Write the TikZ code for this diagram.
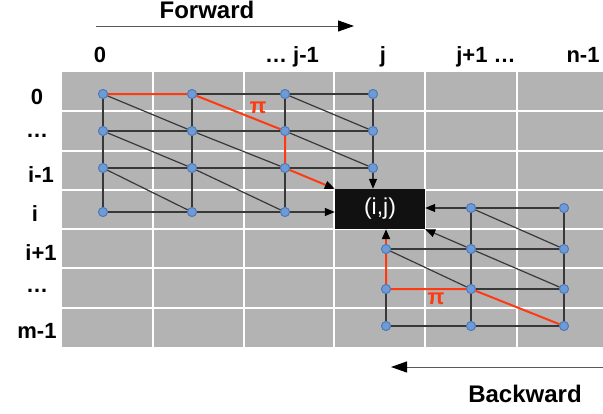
\documentclass[tikz,border=0pt]{standalone}
\usepackage{fontspec}
\setmainfont{Liberation Sans}
\usetikzlibrary{arrows.meta}
\definecolor{cellgray}{HTML}{B3B3B3}
\definecolor{edgegray}{HTML}{383838}
\definecolor{pathred}{HTML}{FF3A12}
\definecolor{dotfill}{HTML}{6E9BD6}
\definecolor{dotdraw}{HTML}{4A78B8}
\definecolor{boxblack}{HTML}{111111}
\begin{document}
\begin{tikzpicture}[x=1pt,y=-1pt,
  dot/.style={circle,fill=dotfill,draw=dotdraw,line width=0.8pt,inner sep=0pt,minimum size=9pt},
  edge/.style={draw=edgegray,line width=1.2pt},
  redpath/.style={draw=pathred,line width=2pt},
  tip/.style={-{Triangle[length=10pt,width=8pt,color=black,fill=black]}},
  lab/.style={font=\fontsize{22}{24}\selectfont\bfseries,anchor=base,text=black},
  title/.style={font=\fontsize{24}{26}\selectfont\bfseries,anchor=base,text=black},
  gridline/.style={draw=white,line width=2pt},
  dirarrow/.style={draw=black!65,line width=1pt,-{Triangle[length=16pt,width=11pt,color=black,fill=black]}},
  pilab/.style={font=\fontsize{22}{24}\selectfont\bfseries,text=pathred},
]
\useasboundingbox (0,0) rectangle (603,413);
% background grid
\fill[cellgray] (62,72) rectangle (608,347);
\foreach \x in {153,243.5,334,425,517} \draw[gridline] (\x,72) -- (\x,347);
\foreach \y in {111.3,150.6,189.9,229.1,268.4,307.7} \draw[gridline] (62,\y) -- (608,\y);

% direction arrows and titles
\coordinate (fwdS) at (96,26);
\coordinate (fwdE) at (354,26);
\draw[dirarrow] (fwdS) -- (fwdE);
\node[title] (fwdT) at (207,18) {Forward};
\coordinate (bwdS) at (603,367);
\coordinate (bwdE) at (391,367);
\draw[dirarrow] (bwdS) -- (bwdE);
\node[title] (bwdT) at (525,402) {Backward};

% column labels
\node[lab] (c0) at (100,62) {0};
\node[lab] (c1) at (292,62) {… j-1};
\node[lab] (c2) at (383,62) {j};
\node[lab] (c3) at (486,62) {j+1 …};
\node[lab] (c4) at (583,62) {n-1};
% row labels
\node[lab] (r0) at (37,104) {0};
\node[lab] (r1) at (37,137) {…};
\node[lab] (r2) at (41,182) {i-1};
\node[lab] (r3) at (35,221) {i};
\node[lab] (r4) at (41,260) {i+1};
\node[lab] (r5) at (37,292) {…};
\node[lab] (r6) at (37,338) {m-1};

% result box
\node[fill=boxblack,text=white,minimum width=90pt,minimum height=40pt,inner sep=0pt,
      font=\fontsize{23}{25}\selectfont] (box) at (380,209) {(i,j)};

% forward nodes
\node[dot] (f00) at (103,94) {};
\node[dot] (f10) at (192,94) {};
\node[dot] (f20) at (285,94) {};
\node[dot] (f30) at (373,94) {};
\node[dot] (f01) at (103,131) {};
\node[dot] (f11) at (192,131) {};
\node[dot] (f21) at (285,131) {};
\node[dot] (f31) at (373,131) {};
\node[dot] (f02) at (103,168) {};
\node[dot] (f12) at (192,168) {};
\node[dot] (f22) at (285,168) {};
\node[dot] (f32) at (373,168) {};
\node[dot] (f03) at (103,212) {};
\node[dot] (f13) at (192,212) {};
\node[dot] (f23) at (285,212) {};

% backward nodes
\node[dot] (b10) at (471,208) {};
\node[dot] (b20) at (564,208) {};
\node[dot] (b01) at (386,249) {};
\node[dot] (b11) at (471,249) {};
\node[dot] (b21) at (564,249) {};
\node[dot] (b02) at (386,289) {};
\node[dot] (b12) at (471,289) {};
\node[dot] (b22) at (564,289) {};
\node[dot] (b03) at (386,326) {};
\node[dot] (b13) at (471,326) {};
\node[dot] (b23) at (564,326) {};

% forward black edges
\draw[edge] (f10) -- (f20) -- (f30);
\draw[edge] (f01) -- (f11) -- (f21) -- (f31);
\draw[edge] (f02) -- (f12) -- (f22) -- (f32);
\draw[edge] (f03) -- (f13) -- (f23);
\draw[edge] (f00) -- (f01) -- (f02) -- (f03);
\draw[edge] (f10) -- (f11) -- (f12) -- (f13);
\draw[edge] (f20) -- (f21);
\draw[edge] (f22) -- (f23);
\draw[edge] (f30) -- (f31) -- (f32);
\draw[edge] (f00) -- (f11);
\draw[edge] (f20) -- (f31);
\draw[edge] (f01) -- (f12);
\draw[edge] (f11) -- (f22);
\draw[edge] (f21) -- (f32);
\draw[edge] (f02) -- (f13);
\draw[edge] (f12) -- (f23);
\draw[edge,tip] (f23) -- (f23 -| box.west);
\draw[edge,tip] (f32) -- (f32 |- box.north);
% forward red path
\draw[redpath] (f00) -- (f10) -- (f21) -- (f22);
\draw[redpath,tip] (f22) -- (box.north west);

% backward black edges
\draw[edge] (b20) -- (b10);
\draw[edge,tip] (b10) -- (b10 -| box.east);
\draw[edge] (b01) -- (b11) -- (b21);
\draw[edge] (b12) -- (b22);
\draw[edge] (b03) -- (b13) -- (b23);
\draw[edge] (b02) -- (b03);
\draw[edge] (b10) -- (b11) -- (b12) -- (b13);
\draw[edge] (b20) -- (b21) -- (b22) -- (b23);
\draw[edge] (b10) -- (b21);
\draw[edge] (b01) -- (b12);
\draw[edge] (b11) -- (b22);
\draw[edge,tip] (b11) -- (box.south east);
% backward red path
\draw[redpath] (b23) -- (b12) -- (b02) -- (b01);
\draw[redpath,tip] (b01) -- (b01 |- box.south);

% redraw nodes on top
\foreach \n in {f00,f10,f20,f30,f01,f11,f21,f31,f02,f12,f22,f32,f03,f13,f23,
                b10,b20,b01,b11,b21,b02,b12,b22,b03,b13,b23}
  \fill[dotfill,draw=dotdraw,line width=0.8pt] (\n.center) circle (4.5pt);

% pi labels
\node[pilab] (pi1) at (258,108) {π};
\node[pilab] (pi2) at (436,299) {π};
\end{tikzpicture}
\end{document}
